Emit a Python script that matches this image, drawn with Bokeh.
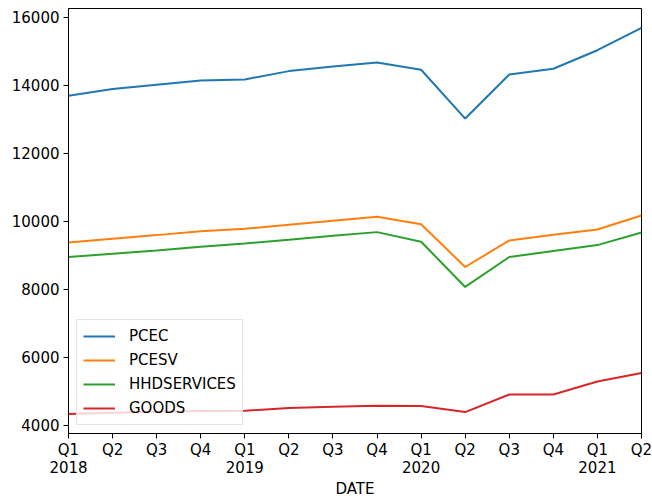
from bokeh.plotting import figure
from bokeh.models import FixedTicker, Range1d, Legend, LegendItem
from bokeh.embed import file_html
from bokeh.resources import INLINE

quarters = ["Q1\n2018", "Q2", "Q3", "Q4", "Q1\n2019", "Q2", "Q3", "Q4",
            "Q1\n2020", "Q2", "Q3", "Q4", "Q1\n2021", "Q2"]
pcec = [13688, 13883, 14010, 14137, 14166, 14410, 14546, 14664,
        14449, 13015, 14312, 14478, 15024, 15678]
pcesv = [9375, 9483, 9590, 9707, 9775, 9893, 10010, 10127,
         9912, 8653, 9434, 9600, 9756, 10166]
hhdservices = [8946, 9043, 9141, 9248, 9346, 9453, 9571, 9678,
               9395, 8067, 8946, 9122, 9297, 9668]
goods = [4331, 4370, 4399, 4419, 4428, 4507, 4546, 4575,
         4565, 4389, 4907, 4907, 5287, 5541]
series_names = ["PCEC", "PCESV", "HHDSERVICES", "GOODS"]
colors = ["#1f77b4", "#ff7f0e", "#2ca02c", "#d62728"]
y_ticks = [4000, 6000, 8000, 10000, 12000, 14000, 16000]

x = list(range(len(quarters)))
FONT = "DejaVu Sans"
FS = "15px"

p = figure(width=652, height=500, output_backend="svg", toolbar_location=None,
           x_range=Range1d(0, len(quarters) - 1), y_range=Range1d(3760, 16250),
           min_border_left=68, min_border_right=11, min_border_top=8, min_border_bottom=66)
p.grid.visible = False
p.outline_line_color = "black"
p.outline_line_width = 1
p.background_fill_color = "white"
p.border_fill_color = "white"

items = []
for name, data, c in zip(series_names, [pcec, pcesv, hhdservices, goods], colors):
    r = p.line(x, data, line_color=c, line_width=2)
    items.append(LegendItem(label=name, renderers=[r]))

legend = Legend(items=items, location="bottom_left",
                label_text_font=FONT, label_text_font_size=FS, label_text_color="black",
                glyph_width=32, glyph_height=20, label_height=20, spacing=4,
                padding=6, margin=8, label_standoff=14,
                background_fill_color="white", background_fill_alpha=0.8,
                border_line_color="#cccccc", border_line_width=1)
p.add_layout(legend, "center")

xa = p.xaxis[0]
xa.ticker = FixedTicker(ticks=x, minor_ticks=[])
xa.major_label_overrides = {i: q for i, q in enumerate(quarters)}
xa.axis_label = "DATE"
ya = p.yaxis[0]
ya.ticker = FixedTicker(ticks=y_ticks, minor_ticks=[])

for ax in (xa, ya):
    ax.axis_line_color = "black"
    ax.major_tick_line_color = "black"
    ax.major_tick_out = 5
    ax.major_tick_in = 0
    ax.minor_tick_line_color = None
    ax.major_label_text_font = FONT
    ax.major_label_text_font_size = FS
    ax.major_label_text_color = "black"
    ax.major_label_standoff = 4
    ax.axis_label_text_font = FONT
    ax.axis_label_text_font_size = FS
    ax.axis_label_text_font_style = "normal"
    ax.axis_label_text_color = "black"
xa.major_label_text_line_height = 1.0
xa.major_label_standoff = 2
xa.axis_label_standoff = 0
xa.axis_label_text_line_height = 1.0

open("out.html", "w").write(file_html(p, INLINE))
